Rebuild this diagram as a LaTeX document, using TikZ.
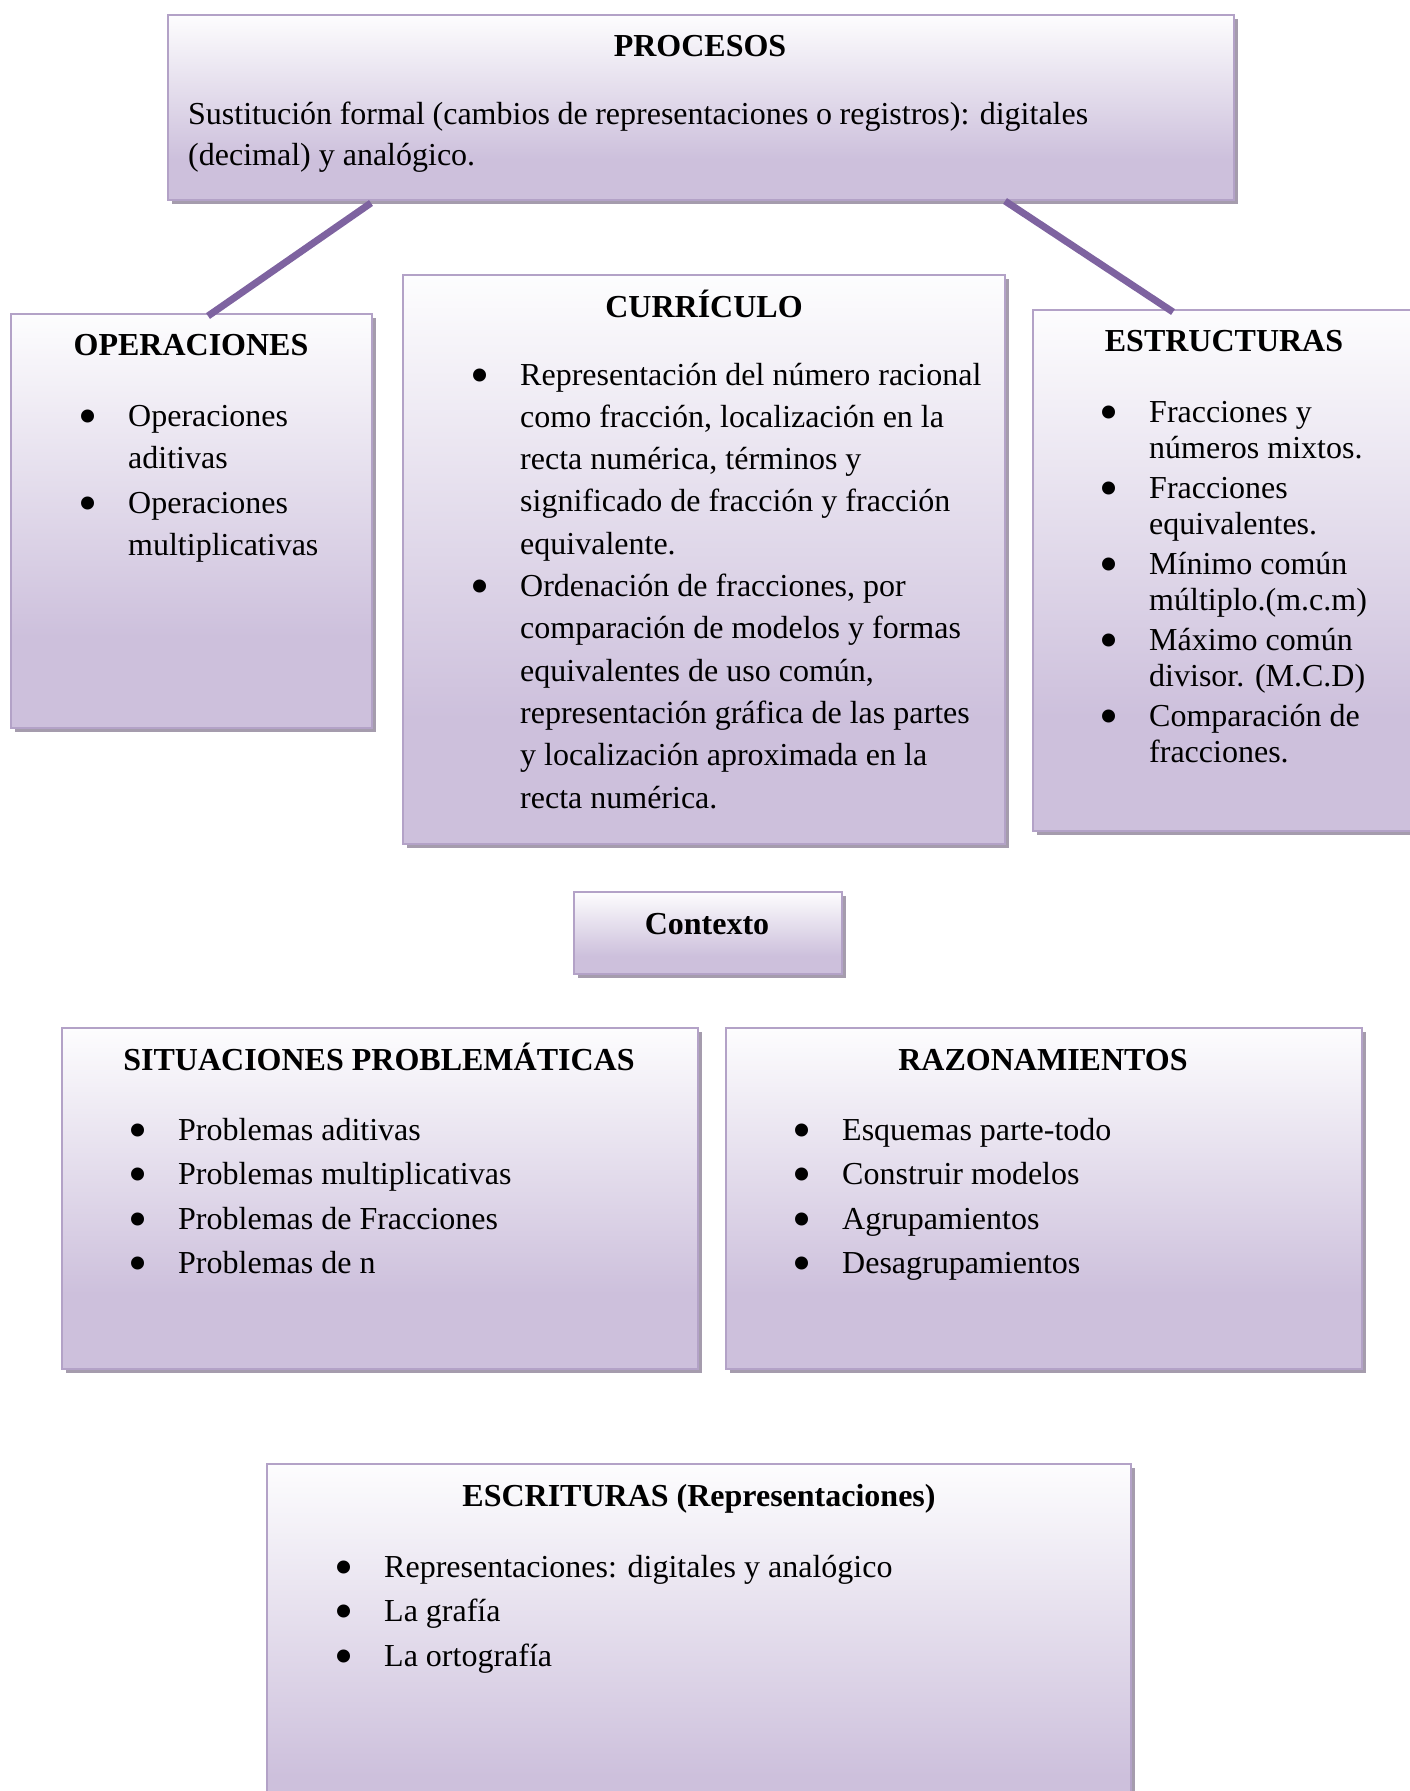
\documentclass[tikz,border=0pt]{standalone}
\usepackage{fontspec}
\usepackage{graphicx}
\setmainfont{Liberation Serif}
\usetikzlibrary{shadows}
\definecolor{boxtop}{HTML}{FDFDFE}
\definecolor{boxbot}{HTML}{CDC0DC}
\definecolor{boxline}{HTML}{B3A2C7}
\definecolor{shadowc}{HTML}{A59CAD}
\definecolor{connc}{HTML}{7E63A0}
\pgfdeclareverticalshading{boxshade}{100bp}{color(0bp)=(boxbot); color(36bp)=(boxbot); color(75bp)=(boxtop); color(100bp)=(boxtop)}
\newcommand\bul{\leavevmode\llap{\smash{\raisebox{-8pt}{\scalebox{1.7}{\textbullet}}}\hspace{31pt}}}
\newcommand\lst[1]{\parbox[t]{900pt}{\raggedright #1}}
\begin{document}
\begin{tikzpicture}[x=1pt,y=-1pt,
  box/.style={draw=boxline, line width=2pt, shading=boxshade, rectangle, inner sep=0pt, outer sep=0pt, anchor=north west,
    drop shadow={shadow xshift=4pt, shadow yshift=-4pt, fill=shadowc, opacity=1}},
  ttl/.style={font=\fontsize{32}{42}\selectfont\bfseries, inner sep=0pt, anchor=base},
  txt/.style={font=\fontsize{32}{42.3}\selectfont, inner sep=0pt, anchor=base west},
  conn/.style={draw=connc, line width=7pt}]
\useasboundingbox (0,0) rectangle (1410,1791);
\clip (0,0) rectangle (1410,1791);
% boxes
\node[box, minimum width=1066pt, minimum height=185pt] (proc) at (168,15) {};
\node[box, minimum width=361pt, minimum height=414pt] (oper) at (11,314) {};
\node[box, minimum width=602pt, minimum height=569pt] (curr) at (403,275) {};
\node[box, minimum width=400pt, minimum height=521pt] (estr) at (1033,310) {};
\node[box, minimum width=268pt, minimum height=82pt] (ctx) at (574,892) {};
\node[box, minimum width=636pt, minimum height=341pt] (sit) at (62,1028) {};
\node[box, minimum width=636pt, minimum height=341pt] (raz) at (726,1028) {};
\node[box, minimum width=864pt, minimum height=400pt] (esc) at (267,1464) {};
% connectors
\draw[conn] ([xshift=203pt,yshift=-3pt]proc.south west) -- ([xshift=197pt,yshift=-2pt]oper.north west);
\draw[conn] ([xshift=837pt,yshift=-1pt]proc.south west) -- ([xshift=140pt,yshift=-2pt]estr.north west);
% texts
\node[ttl] (procT) at (700,56) {PROCESOS};
\node[txt, font=\fontsize{32}{41}\selectfont] (procB) at (188,124) {\lst{Sustitución formal (cambios de representaciones o registros): digitales\\(decimal) y analógico.}};
\node[ttl] (operT) at (191,355) {OPERACIONES};
\node[txt] (operL) at (128,426) {\lst{\bul Operaciones\\aditivas\\[3pt]\bul Operaciones\\multiplicativas}};
\node[ttl] (currT) at (704,317) {CURRÍCULO};
\node[txt] (currL) at (520,385) {\lst{\bul Representación del número racional\\como fracción, localización en la\\recta numérica, términos y\\significado de fracción y fracción\\equivalente.\\\bul Ordenación de fracciones, por\\comparación de modelos y formas\\equivalentes de uso común,\\representación gráfica de las partes\\y localización aproximada en la\\recta numérica.}};
\node[ttl] (estrT) at (1224,351) {ESTRUCTURAS};
\node[txt, font=\fontsize{32}{36}\selectfont] (estrL) at (1149,422) {\lst{\bul Fracciones y\\números mixtos.\\[4pt]\bul Fracciones\\equivalentes.\\[4pt]\bul Mínimo común\\múltiplo.(m.c.m)\\[4pt]\bul Máximo común\\divisor. (M.C.D)\\[4pt]\bul Comparación de\\fracciones.}};
\node[ttl] (ctxT) at (707,934) {Contexto};
\node[ttl] (sitT) at (379,1070) {SITUACIONES PROBLEMÁTICAS};
\node[txt, font=\fontsize{32}{44.6}\selectfont] (sitL) at (178,1140) {\lst{\bul Problemas aditivas\\\bul Problemas multiplicativas\\\bul Problemas de Fracciones\\\bul Problemas de n}};
\node[ttl] (razT) at (1043,1070) {RAZONAMIENTOS};
\node[txt, font=\fontsize{32}{44.6}\selectfont] (razL) at (842,1140) {\lst{\bul Esquemas parte-todo\\\bul Construir modelos\\\bul Agrupamientos\\\bul Desagrupamientos}};
\node[ttl] (escT) at (699,1506) {ESCRITURAS (Representaciones)};
\node[txt, font=\fontsize{32}{44.5}\selectfont] (escL) at (384,1577) {\lst{\bul Representaciones: digitales y analógico\\\bul La grafía\\\bul La ortografía}};
\end{tikzpicture}
\end{document}
